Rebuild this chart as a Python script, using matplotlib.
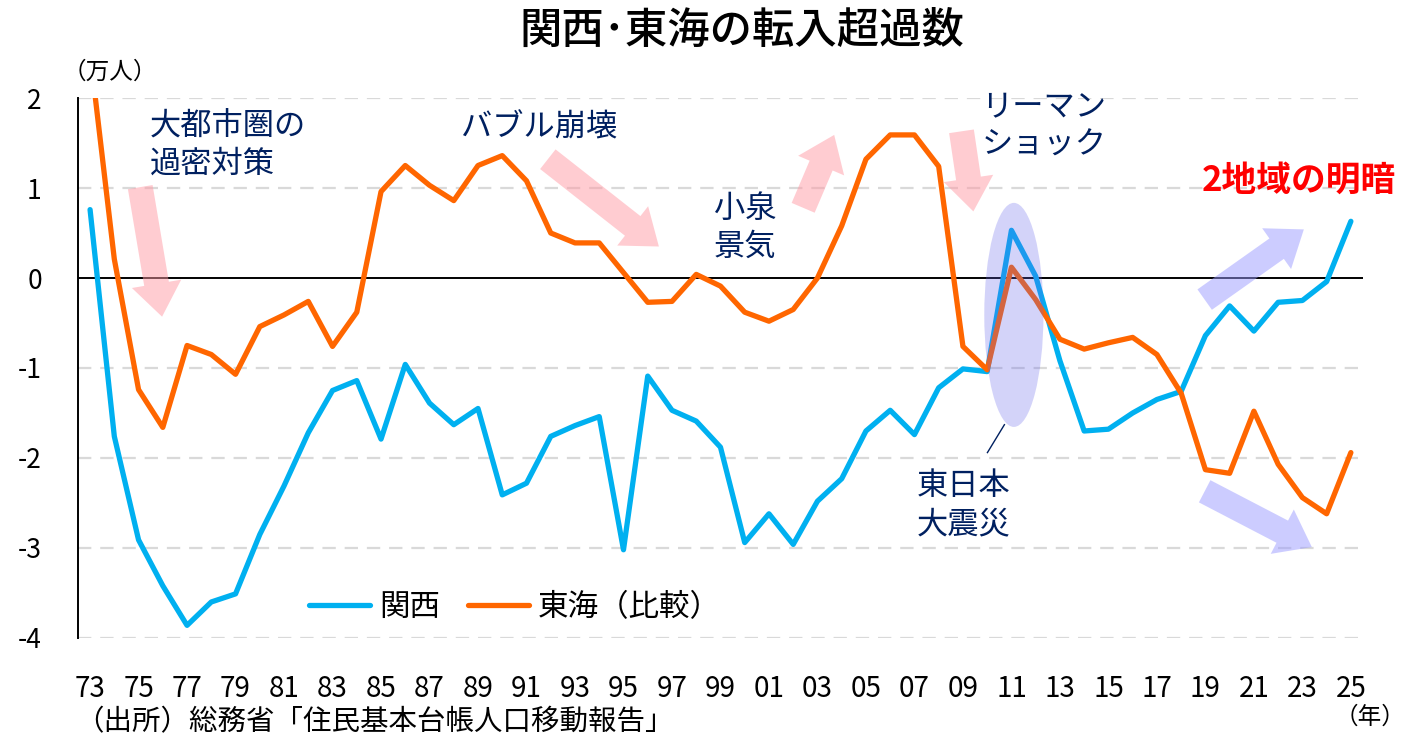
import numpy as np
import matplotlib
matplotlib.use('Agg')
import matplotlib.pyplot as plt
from matplotlib.patches import Ellipse
from matplotlib import font_manager

plt.rcParams['font.family'] = ['Noto Sans CJK JP', 'DejaVu Sans']

years = np.arange(1973, 2026)
kansai = [0.76, -1.76, -2.91, -3.42, -3.86, -3.60, -3.51, -2.85, -2.31, -1.72,
          -1.25, -1.14, -1.79, -0.96, -1.39, -1.63, -1.45, -2.41, -2.28, -1.76,
          -1.64, -1.54, -3.02, -1.09, -1.47, -1.59, -1.88, -2.94, -2.62, -2.96,
          -2.48, -2.23, -1.70, -1.47, -1.74, -1.22, -1.01, -1.04, 0.53, 0.02,
          -0.92, -1.70, -1.68, -1.50, -1.35, -1.26, -0.64, -0.31, -0.59, -0.27,
          -0.25, -0.04, 0.63]
tokai = [2.5, 0.21, -1.24, -1.66, -0.75, -0.85, -1.07, -0.54, -0.41, -0.26,
         -0.76, -0.38, 0.96, 1.25, 1.03, 0.86, 1.25, 1.36, 1.08, 0.50,
         0.39, 0.39, 0.06, -0.27, -0.26, 0.04, -0.09, -0.38, -0.48, -0.35,
         0.00, 0.58, 1.32, 1.59, 1.59, 1.24, -0.76, -1.02, 0.12, -0.24,
         -0.68, -0.79, -0.72, -0.66, -0.85, -1.28, -2.13, -2.17, -1.48, -2.07,
         -2.44, -2.62, -1.94]
yticks = [2, 1, 0, -1, -2, -3, -4]
xticks = list(range(1973, 2026, 2))
xlabels = ['%02d' % (y % 100) for y in xticks]

navy = '#002060'
blue = '#00B0F0'
orange = '#FF6600'

names = set(f.name for f in font_manager.fontManager.ttflist)
numfont = 'Liberation Sans Narrow' if 'Liberation Sans Narrow' in names else 'Noto Sans CJK JP'

fig = plt.figure(figsize=(14.12, 7.42), dpi=100)
ax = fig.add_axes([0.0552, 0.1402, 0.9101, 0.7277])

ax.set_xlim(1972.5, 2025.5)
ax.set_ylim(-4, 2)
for y in yticks:
    if y == 0:
        ax.axhline(0, color='black', lw=1.4, zorder=2)
    else:
        ax.axhline(y, color='#D9D9D9', lw=1.6, ls=(0, (6, 4)), zorder=1)

for s in ['top', 'right', 'bottom']:
    ax.spines[s].set_visible(False)
ax.spines['left'].set_linewidth(1.4)

ax.set_yticks(yticks)
ax.set_yticklabels([str(y) for y in yticks], fontsize=19, family=numfont)
ax.set_xticks(xticks)
ax.set_xticklabels(xlabels, fontsize=20, family=numfont)
ax.tick_params(axis='y', length=0, pad=26)
ax.tick_params(axis='x', length=0, pad=26)

# arrows
def arrow(tail, tip, col):
    ax.annotate('', xy=tip, xytext=tail,
                arrowprops=dict(arrowstyle='simple,head_length=24,head_width=36,tail_width=18',
                                mutation_scale=1, color=col, alpha=0.5, lw=0,
                                shrinkA=0, shrinkB=0), zorder=2)

pink = '#FF9AA5'
lav = '#9B9BFF'
arrow((1975.07, 1.01), (1975.97, -0.43), pink)
arrow((1991.88, 1.32), (1996.46, 0.35), pink)
arrow((2002.41, 0.78), (2003.69, 1.59), pink)
arrow((2008.94, 1.63), (2009.43, 0.74), pink)
arrow((2018.97, -0.24), (2023.06, 0.54), lav)
arrow((2018.97, -2.37), (2023.39, -2.99), lav)

ax.plot(years, kansai, color=blue, lw=3.8, solid_capstyle='round',
        solid_joinstyle='round', label='関西', zorder=4)
ax.plot(years, tokai, color=orange, lw=3.8, solid_capstyle='round',
        solid_joinstyle='round', label='東海（比較）', zorder=4)

ax.add_patch(Ellipse((2011.1, -0.41), 2.44, 2.49, color='#6464EB', alpha=0.28,
                     lw=0, zorder=5))
ax.plot([2010.71, 2010.01], [-1.63, -1.94], color=navy, lw=1, zorder=5)

ax.text(1975.48, 1.87, '大都市圏の\n過密対策', fontsize=22.5, color=navy,
        va='top', ha='left', linespacing=1.25)
ax.text(1988.28, 1.67, 'バブル崩壊', fontsize=22.5, color=navy, va='center', ha='left')
ax.text(1998.73, 0.95, '小泉\n景気', fontsize=22.5, color=navy, va='top', ha='left',
        linespacing=1.25)
ax.text(2009.76, 2.08, 'リーマン\nショック', fontsize=22.5, color=navy, va='top',
        ha='left', linespacing=1.25)
ax.text(2007.08, -2.13, '東日本\n大震災', fontsize=22.5, color=navy, va='top',
        ha='left', linespacing=1.25)
ax.text(2018.85, 1.09, '2地域の明暗', fontsize=25, color='#FF0000',
        fontweight='bold', va='center', ha='left')

leg = ax.legend(loc='center', bbox_to_anchor=(0.34, 0.057), ncol=2, frameon=False,
                fontsize=22, handlelength=2.0, handletextpad=0.3, columnspacing=0.9)

fig.text(742 / 1412, 1 - 30 / 742, '関西･東海の転入超過数', fontsize=30.5,
         fontweight='medium', ha='center', va='center')
fig.text(63 / 1412, 1 - 72 / 742, '（万人）', fontsize=17, ha='left', va='center')
fig.text(1370 / 1412, 1 - 717 / 742, '（年）', fontsize=17, ha='center', va='center')
fig.text(75 / 1412, 1 - 722 / 742, '（出所）総務省「住民基本台帳人口移動報告」',
         fontsize=20.5, ha='left', va='center')

fig.savefig('out.png', dpi=100)
